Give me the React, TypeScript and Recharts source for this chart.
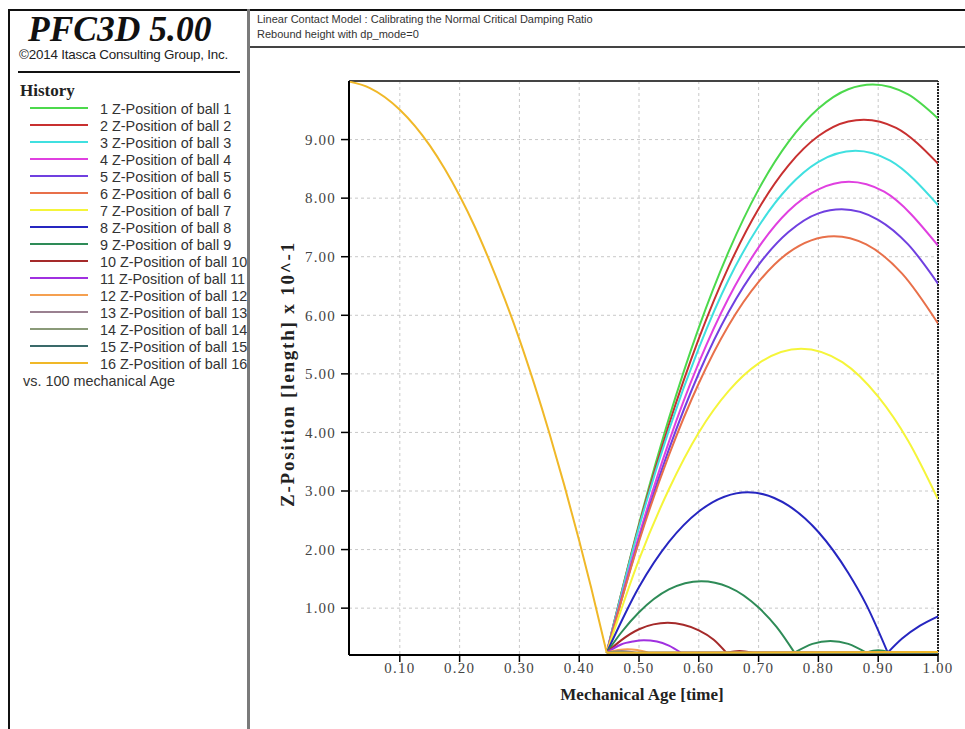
import React from 'react';
import { LineChart, Line, XAxis, YAxis, CartesianGrid, ReferenceLine } from 'recharts';

type Pt = [number, number | null];

// Shared free-fall part (all 16 balls overlap until the first impact; drawn with ball 16 on top)
const fallT = [0.015, 0.05, 0.10, 0.15, 0.175, 0.20, 0.225, 0.25, 0.275, 0.30, 0.325, 0.35, 0.375, 0.40, 0.42, 0.446];
const fallZ = [9.99, 9.88, 9.51, 8.90, 8.50, 8.04, 7.52, 6.93, 6.29, 5.59, 4.82, 3.99, 3.10, 2.15, 1.35, 0.24];

// Rebound parts, [time, z]; a null z breaks the curve at a bounce
const ball1: Pt[] = [[0.446, 0.24], [0.50, 2.44], [0.55, 4.24], [0.60, 5.79], [0.65, 7.09], [0.70, 8.15], [0.75, 8.96], [0.80, 9.53], [0.85, 9.86], [0.891, 9.94], [0.95, 9.77], [1.0, 9.36]];
const ball2: Pt[] = [[0.446, 0.24], [0.50, 2.41], [0.55, 4.13], [0.60, 5.60], [0.65, 6.83], [0.70, 7.82], [0.75, 8.56], [0.80, 9.06], [0.85, 9.31], [0.876, 9.34], [0.93, 9.20], [1.0, 8.59]];
const ball3: Pt[] = [[0.446, 0.24], [0.50, 2.38], [0.55, 4.04], [0.60, 5.44], [0.65, 6.61], [0.70, 7.52], [0.75, 8.19], [0.80, 8.62], [0.862, 8.81], [0.92, 8.64], [1.0, 7.88]];
const ball4: Pt[] = [[0.446, 0.24], [0.50, 2.24], [0.55, 3.84], [0.60, 5.19], [0.65, 6.30], [0.70, 7.16], [0.75, 7.78], [0.80, 8.15], [0.851, 8.28], [0.91, 8.11], [1.0, 7.19]];
const ball5: Pt[] = [[0.446, 0.24], [0.50, 2.17], [0.55, 3.71], [0.60, 5.01], [0.65, 6.06], [0.70, 6.86], [0.75, 7.42], [0.80, 7.74], [0.839, 7.81], [0.90, 7.63], [0.95, 7.21], [1.0, 6.54]];
const ball6: Pt[] = [[0.446, 0.24], [0.50, 2.14], [0.55, 3.61], [0.60, 4.84], [0.65, 5.83], [0.70, 6.57], [0.75, 7.07], [0.826, 7.35], [0.88, 7.21], [0.94, 6.71], [1.0, 5.86]];
const ball7: Pt[] = [[0.446, 0.24], [0.50, 1.83], [0.55, 3.03], [0.60, 4.00], [0.65, 4.71], [0.70, 5.18], [0.771, 5.43], [0.84, 5.20], [0.90, 4.61], [0.95, 3.86], [1.0, 2.86]];
const ball8: Pt[] = [[0.446, 0.24], [0.50, 1.36], [0.55, 2.13], [0.60, 2.65], [0.682, 2.98], [0.75, 2.75], [0.80, 2.30], [0.85, 1.60], [0.88, 1.06], [0.916, 0.24], [0.916, null], [0.916, 0.24], [0.94, 0.48], [0.97, 0.70], [1.0, 0.86]];
const ball9: Pt[] = [[0.446, 0.24], [0.47, 0.58], [0.50, 0.93], [0.55, 1.32], [0.604, 1.46], [0.65, 1.36], [0.70, 1.01], [0.73, 0.68], [0.760, 0.24], [0.760, null], [0.760, 0.24], [0.79, 0.39], [0.82, 0.44], [0.85, 0.39], [0.88, 0.24], [0.88, null], [0.88, 0.24], [0.90, 0.28], [0.92, 0.24], [0.92, null], [0.92, 0.24], [1.0, 0.24]];
const ball10: Pt[] = [[0.446, 0.24], [0.47, 0.45], [0.50, 0.64], [0.548, 0.75], [0.60, 0.62], [0.625, 0.46], [0.646, 0.24], [0.646, null], [0.646, 0.24], [0.668, 0.27], [0.69, 0.24], [0.69, null], [0.69, 0.24], [1.0, 0.24]];
const ball11: Pt[] = [[0.446, 0.24], [0.47, 0.38], [0.49, 0.43], [0.508, 0.45], [0.53, 0.43], [0.55, 0.36], [0.57, 0.24], [0.57, null], [0.57, 0.24], [1.0, 0.24]];
const ball12: Pt[] = [[0.446, 0.24], [0.465, 0.285], [0.481, 0.30], [0.497, 0.285], [0.516, 0.24], [0.516, null], [0.516, 0.24], [1.0, 0.25]];
const ball13: Pt[] = [[0.446, 0.24], [0.471, 0.27], [0.495, 0.24], [0.495, null], [0.495, 0.24], [1.0, 0.24]];
const ball14: Pt[] = [[0.446, 0.24], [0.4635, 0.255], [0.481, 0.24], [0.481, null], [0.481, 0.24], [1.0, 0.23]];
const ball15: Pt[] = [[0.446, 0.24], [1.0, 0.24]];
const ball16: Pt[] = [[0.446, 0.24], [1.0, 0.25]];

const balls = [ball1, ball2, ball3, ball4, ball5, ball6, ball7, ball8, ball9, ball10, ball11, ball12, ball13, ball14, ball15, ball16];

const colors = [
  '#4cd94c', '#c83030', '#40e0e0', '#e040e0', '#7040e0', '#e8704a', '#f5f53a', '#2626c0',
  '#2e8b57', '#a52a2a', '#a030e0', '#f5a050', '#9a8090', '#8a9a78', '#3a6a6a', '#f0b828',
];

const xTicks = [0.1, 0.2, 0.3, 0.4, 0.5, 0.6, 0.7, 0.8, 0.9, 1.0];
const yTicks = [1, 2, 3, 4, 5, 6, 7, 8, 9];
const xMinorTicks = Array.from({ length: 79 }, (_, i) => +(0.025 + i * 0.0125).toFixed(4));
const yMinorTicks = Array.from({ length: 49 }, (_, i) => +(0.4 + i * 0.2).toFixed(2));

// The identical free-fall segment is drawn once, by the top-most series (ball 16)
const seriesData = balls.map((b, idx) => [
  ...(idx === balls.length - 1 ? fallT.map((t, i) => ({ t, z: fallZ[i] as number | null })) : []),
  { t: 0.446, z: null as number | null },
  ...b.map(([t, z]) => ({ t, z })),
]);

const serif = "'Liberation Serif', 'Times New Roman', serif";
const sans = "'Liberation Sans', Arial, sans-serif";

const Empty = () => <g />;

export default function App() {
  return (
    <div style={{ position: 'absolute', left: 0, top: 0, width: 965, height: 729, background: '#fff', overflow: 'hidden' }}>
      {/* frame */}
      <div style={{ position: 'absolute', left: 8, top: 9, width: 957, height: 2, background: '#111' }} />
      <div style={{ position: 'absolute', left: 8, top: 9, width: 2, height: 720, background: '#111' }} />
      <div style={{ position: 'absolute', left: 247, top: 9, width: 3, height: 720, background: '#7a7a7a' }} />
      <div style={{ position: 'absolute', left: 250, top: 46, width: 715, height: 2, background: '#444' }} />

      {/* title (outside the clipped panel so it is never cut) */}
      <div style={{ position: 'absolute', left: 28, top: 13.5, fontFamily: serif, fontWeight: 'bold', fontStyle: 'italic', fontSize: 35.5, lineHeight: '30px', color: '#111', whiteSpace: 'nowrap' }}>PFC3D 5.00</div>

      {/* left panel */}
      <div style={{ position: 'absolute', left: 10, top: 11, width: 237, height: 718, overflow: 'hidden' }}>
        <div style={{ position: 'absolute', left: 9, top: 37, fontFamily: sans, fontSize: 13.4, lineHeight: '13.4px', letterSpacing: -0.2, color: '#222', whiteSpace: 'nowrap' }}>©2014 Itasca Consulting Group, Inc.</div>
        <div style={{ position: 'absolute', left: 8, top: 60, width: 222, height: 2, background: '#111' }} />
        <div style={{ position: 'absolute', left: 10, top: 71, fontFamily: serif, fontWeight: 'bold', fontSize: 17, lineHeight: '17px', color: '#222' }}>History</div>
        {colors.map((c, i) => {
          const ly = 107.7 + 17.04 * i - 11;
          return (
            <React.Fragment key={i}>
              <div style={{ position: 'absolute', left: 20, top: ly - 1, width: 58, height: 2, background: c }} />
              <div style={{ position: 'absolute', left: 90, top: ly + 6 - 12.1, fontFamily: sans, fontSize: 14.4, lineHeight: '14.4px', color: '#333', whiteSpace: 'nowrap' }}>
                {`${i + 1} Z-Position of ball ${i + 1}`}
              </div>
            </React.Fragment>
          );
        })}
        <div style={{ position: 'absolute', left: 13, top: 386.5 - 11 - 12.1, fontFamily: sans, fontSize: 14.4, lineHeight: '14.4px', color: '#333', whiteSpace: 'nowrap' }}>vs. 100 mechanical Age</div>
      </div>

      {/* header */}
      <div style={{ position: 'absolute', left: 257, top: 23 - 9.3, fontFamily: sans, fontSize: 11, lineHeight: '11px', color: '#333', whiteSpace: 'nowrap' }}>Linear Contact Model : Calibrating the Normal Critical Damping Ratio</div>
      <div style={{ position: 'absolute', left: 257, top: 38 - 9.3, fontFamily: sans, fontSize: 11, lineHeight: '11px', color: '#333', whiteSpace: 'nowrap' }}>Rebound height with dp_mode=0</div>

      {/* chart */}
      <div style={{ position: 'absolute', left: 250, top: 48 }}>
        <LineChart width={715} height={681} margin={{ top: 33, right: 27, left: 0, bottom: 44 }}>
          <CartesianGrid stroke="#c8c8c8" strokeDasharray="3 3" />
          <XAxis xAxisId="minor" dataKey="t" type="number" domain={[0.015, 1.0]} ticks={xMinorTicks} allowDataOverflow
            height={0} axisLine={false} tickSize={4} tickLine={{ stroke: '#000' }} tick={Empty} />
          <XAxis dataKey="t" type="number" domain={[0.015, 1.0]} ticks={xTicks} allowDataOverflow height={30}
            tickFormatter={(v: number) => v.toFixed(2)} tickSize={7} tickMargin={0}
            axisLine={{ stroke: '#000', strokeWidth: 2 }} tickLine={{ stroke: '#000', strokeWidth: 1.5 }}
            tick={{ fill: '#444', fontSize: 15, fontFamily: serif, letterSpacing: 1.2 }} />
          <YAxis yAxisId="minor" type="number" domain={[0.2, 10]} ticks={yMinorTicks} allowDataOverflow
            width={0} axisLine={false} tickSize={4} tickLine={{ stroke: '#000' }} tick={Empty} />
          <YAxis type="number" domain={[0.2, 10]} ticks={yTicks} allowDataOverflow width={99}
            tickFormatter={(v: number) => v.toFixed(2)} tickSize={8} tickMargin={5}
            axisLine={{ stroke: '#000', strokeWidth: 2 }} tickLine={{ stroke: '#000', strokeWidth: 1.5 }}
            tick={{ fill: '#444', fontSize: 15, fontFamily: serif, letterSpacing: 1.2 }} />
          <ReferenceLine y={10} stroke="#444" strokeWidth={2} />
          <ReferenceLine x={1.0} stroke="#222" strokeWidth={2} strokeDasharray="2 1" />
          {seriesData.map((d, i) => (
            <Line key={i} data={d} dataKey="z" type="monotone" stroke={colors[i]} strokeWidth={2}
              dot={false} activeDot={false} isAnimationActive={false} connectNulls={false} />
          ))}
        </LineChart>
      </div>

      {/* axis titles */}
      <div style={{ position: 'absolute', left: 542, top: 686, width: 200, textAlign: 'center', fontFamily: serif, fontWeight: 'bold', fontSize: 17, lineHeight: '17px', color: '#222', whiteSpace: 'nowrap' }}>Mechanical Age [time]</div>
      <div style={{ position: 'absolute', left: 288 - 150, top: 374 - 11, width: 300, height: 22, textAlign: 'center', transform: 'rotate(-90deg)', fontFamily: serif, fontWeight: 'bold', fontSize: 19, lineHeight: '22px', letterSpacing: 1.8, color: '#222', whiteSpace: 'nowrap' }}>Z-Position [length] x 10^-1</div>
    </div>
  );
}
